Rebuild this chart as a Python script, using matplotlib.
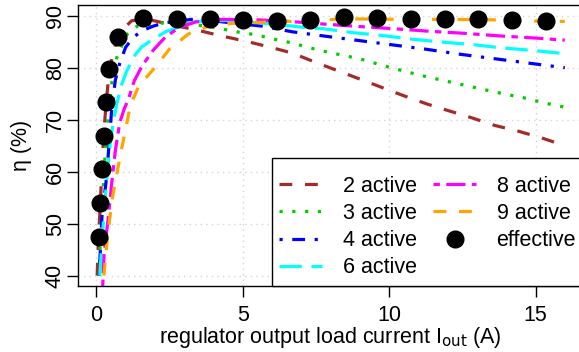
import matplotlib
matplotlib.use("Agg")
import matplotlib.pyplot as plt

plt.rcParams['font.family'] = ['Liberation Sans', 'DejaVu Sans']

# 2 active
x2 = [0.03, 0.08, 0.14, 0.19, 0.25, 0.34, 0.45, 0.65, 0.9, 1.2, 1.6, 2.0, 2.6, 3.4, 4.2,
      5.1, 5.9, 6.7, 7.5, 8.3, 9.1, 9.8, 10.5, 11.3, 12.1, 12.8, 13.6, 14.4, 15.2, 16.0]
y2 = [40.0, 47.5, 53.9, 60.5, 66.9, 73.4, 79.7, 84.4, 87.3, 89.0, 89.4, 89.0, 88.2, 87.3, 86.2,
      85.1, 84.0, 82.8, 81.0, 79.3, 77.6, 76.1, 74.6, 73.0, 71.6, 70.4, 68.9, 67.8, 66.5, 65.0]

# 3 active
x3 = [0.09, 0.17, 0.24, 0.31, 0.41, 0.55, 0.72, 1.06, 1.4, 2.2, 3.0, 3.6, 4.2, 4.6, 5.0,
      5.5, 5.9, 6.65, 7.45, 7.9, 9.0, 9.8, 10.6, 11.4, 12.2, 13.0, 13.8, 14.6, 15.4, 16.0]
y3 = [40.0, 50.3, 57.0, 64.2, 71.0, 78.0, 82.4, 86.5, 88.0, 88.6, 88.5, 88.1, 87.6, 87.1, 86.7,
      86.3, 85.7, 84.8, 83.6, 83.0, 81.7, 80.4, 79.2, 78.1, 77.1, 76.1, 75.1, 74.2, 73.1, 72.4]

# 4 active
x4 = [0.1, 0.14, 0.2, 0.33, 0.42, 0.52, 0.65, 0.8, 1.0, 1.27, 1.6, 1.95, 2.3, 3.4, 4.5,
      5.65, 6.7, 7.9, 9.0, 10.1, 11.2, 12.4, 13.5, 14.6, 15.7, 16.0]
y4 = [40.0, 45.0, 52.0, 57.8, 64.0, 71.5, 77.6, 80.8, 83.9, 85.9, 87.2, 88.0, 88.6, 89.4, 88.7,
      88.0, 86.9, 86.0, 85.2, 84.4, 83.6, 82.6, 81.8, 81.0, 80.2, 80.0]

# 6 active
x6 = [0.12, 0.2, 0.3, 0.4, 0.48, 0.58, 0.7, 0.85, 1.05, 1.33, 1.55, 2.0, 2.4, 2.9, 3.4,
      4.5, 5.2, 6.4, 7.0, 7.75, 8.75, 9.75, 10.75, 11.85, 12.85, 13.85, 14.85, 16.0]
y6 = [40.0, 47.0, 54.5, 61.0, 65.5, 69.5, 73.0, 76.5, 79.5, 82.5, 84.0, 85.7, 87.0, 88.0, 88.9,
      89.1, 88.8, 88.2, 87.8, 87.5, 86.75, 86.2, 85.5, 84.9, 84.45, 83.8, 83.35, 82.7]

# 8 active
x8 = [0.22, 0.27, 0.4, 0.52, 0.65, 0.8, 0.95, 1.1, 1.3, 1.58, 1.95, 2.36, 2.85, 3.4, 4.3,
      5.5, 6.6, 7.75, 8.9, 10.15, 11.4, 12.6, 13.8, 15.0, 16.0]
y8 = [38.0, 44.5, 50.6, 57.5, 64.0, 69.4, 72.0, 74.0, 77.5, 80.5, 83.4, 85.9, 87.8, 88.8, 89.3,
      89.2, 88.9, 88.4, 87.95, 87.5, 87.0, 86.6, 86.1, 85.7, 85.3]

# 9 active
x9 = [0.26, 0.35, 0.45, 0.55, 0.7, 0.85, 1.0, 1.15, 1.45, 2.0, 2.5, 3.15, 3.8, 4.6, 5.5,
      7.1, 8.5, 10.5, 12.0, 13.7, 14.5, 16.0]
y9 = [40.0, 45.5, 50.5, 55.0, 59.5, 64.0, 68.0, 72.5, 76.5, 80.0, 83.6, 86.5, 87.9, 88.5, 88.7,
      89.0, 89.4, 89.3, 89.3, 89.2, 89.0, 88.9]

# effective
xe = [0.08, 0.14, 0.19, 0.25, 0.34, 0.45, 0.75, 1.6, 2.76, 3.89, 5.02, 6.18, 7.3, 8.46,
      9.59, 10.75, 11.9, 13.04, 14.2, 15.36]
ye = [47.5, 53.9, 60.5, 66.9, 73.4, 79.75, 85.9, 89.5, 89.4, 89.4, 89.2, 89.0, 89.2, 89.7,
      89.6, 89.4, 89.3, 89.4, 89.2, 88.9]

series = [
    (x2, y2, "2 active", "#A52A2A", (4, 4)),
    (x3, y3, "3 active", "#00CD00", (1, 3)),
    (x4, y4, "4 active", "#0000FF", (1, 3, 4, 3)),
    (x6, y6, "6 active", "#00FFFF", (7, 3)),
    (x8, y8, "8 active", "#FF00FF", (2, 2, 6, 2)),
    (x9, y9, "9 active", "#FFA500", (4, 4)),
]

fs = 15.5

fig = plt.figure(figsize=(5.79, 3.52), dpi=100)
ax = fig.add_axes([0.1339, 0.1875, 0.874, 0.7983])

ax.grid(True, color="lightgray", linestyle=(0, (1, 3)), linewidth=1)
ax.set_axisbelow(True)

handles = []
for xs, ys, lab, col, dash in series:
    ln, = ax.plot(xs, ys, color=col, linewidth=2.3, linestyle=(0, dash),
                  dash_capstyle="butt", label=lab)
    handles.append(ln)
pt, = ax.plot(xe, ye, "o", color="black", markersize=12, linestyle="none", label="effective")
handles.append(pt)

ax.set_xlim(-0.64, 16.64)
ax.set_ylim(38.0, 92.06)
ax.set_xticks([0, 5, 10, 15])
ax.set_yticks([40, 50, 60, 70, 80, 90])
ax.tick_params(direction="out", length=8, width=1, labelsize=fs)
ax.tick_params(axis="x", pad=6)
ax.tick_params(axis="y", pad=0.5)
for lb in ax.get_yticklabels():
    lb.set_rotation(90)
    lb.set_va("center")
for sp in ax.spines.values():
    sp.set_linewidth(1)

ax.set_xlabel(r"regulator output load current I$_{\mathrm{out}}$ (A)", fontsize=fs, labelpad=-1)
ax.set_ylabel("η (%)", fontsize=fs, labelpad=9)

leg = ax.legend(handles=handles, ncol=2, loc="lower right", bbox_to_anchor=(1, 0),
                borderaxespad=0, fontsize=fs, frameon=True, fancybox=False,
                edgecolor="black", handlelength=2.0, handletextpad=0.95,
                columnspacing=0.75, labelspacing=0.29, borderpad=0.35,
                title=" ", title_fontsize=3)
leg.get_frame().set_linewidth(1)
leg.get_frame().set_alpha(1)

fig.savefig("out.png", dpi=100)
